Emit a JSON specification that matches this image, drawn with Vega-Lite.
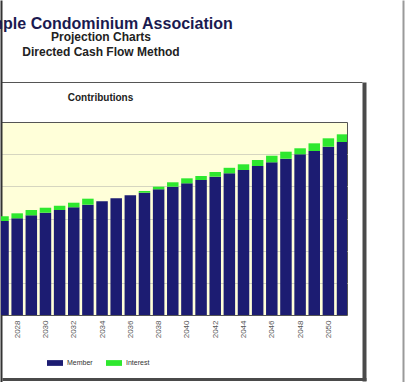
{
  "$schema": "https://vega.github.io/schema/vega-lite/v6.json",
  "autosize": "none",
  "padding": {"left": 1, "top": 122, "right": 62, "bottom": 67},
  "background": "white",
  "width": 346,
  "height": 193,
  "view": {"fill": "#ffffd9", "stroke": "#555555"},
  "title": {
    "text": "Sample Condominium Association",
    "subtitle": ["Projection Charts", "Directed Cash Flow Method"],
    "font": "Liberation Sans",
    "fontSize": 16,
    "fontWeight": "bold",
    "color": "#1a1a50",
    "subtitleFont": "Liberation Sans",
    "subtitleFontSize": 12,
    "subtitleFontWeight": "bold",
    "subtitleColor": "#222222",
    "subtitleLineHeight": 15,
    "subtitlePadding": 0,
    "anchor": "middle",
    "frame": "group",
    "dx": -73,
    "offset": 24
  },
  "resolve": {
    "scale": {"x": "independent", "y": "independent"},
    "axis": {"x": "independent", "y": "independent"}
  },
  "layer": [
    {
      "data": {
        "values": [
          {"year": 2027, "type": "Member", "amount": 292000},
          {"year": 2027, "type": "Interest", "amount": 15000},
          {"year": 2028, "type": "Member", "amount": 300600},
          {"year": 2028, "type": "Interest", "amount": 15500},
          {"year": 2029, "type": "Member", "amount": 309900},
          {"year": 2029, "type": "Interest", "amount": 16500},
          {"year": 2030, "type": "Member", "amount": 318000},
          {"year": 2030, "type": "Interest", "amount": 15500},
          {"year": 2031, "type": "Member", "amount": 326400},
          {"year": 2031, "type": "Interest", "amount": 13400},
          {"year": 2032, "type": "Member", "amount": 334800},
          {"year": 2032, "type": "Interest", "amount": 14300},
          {"year": 2033, "type": "Member", "amount": 342900},
          {"year": 2033, "type": "Interest", "amount": 18700},
          {"year": 2034, "type": "Member", "amount": 353500},
          {"year": 2034, "type": "Interest", "amount": 0},
          {"year": 2035, "type": "Member", "amount": 363100},
          {"year": 2035, "type": "Interest", "amount": 0},
          {"year": 2036, "type": "Member", "amount": 372100},
          {"year": 2036, "type": "Interest", "amount": 0},
          {"year": 2037, "type": "Member", "amount": 380200},
          {"year": 2037, "type": "Interest", "amount": 5300},
          {"year": 2038, "type": "Member", "amount": 390800},
          {"year": 2038, "type": "Interest", "amount": 8100},
          {"year": 2039, "type": "Member", "amount": 398900},
          {"year": 2039, "type": "Interest", "amount": 13700},
          {"year": 2040, "type": "Member", "amount": 409400},
          {"year": 2040, "type": "Interest", "amount": 15500},
          {"year": 2041, "type": "Member", "amount": 419700},
          {"year": 2041, "type": "Interest", "amount": 12400},
          {"year": 2042, "type": "Member", "amount": 430000},
          {"year": 2042, "type": "Interest", "amount": 14600},
          {"year": 2043, "type": "Member", "amount": 440500},
          {"year": 2043, "type": "Interest", "amount": 17100},
          {"year": 2044, "type": "Member", "amount": 450800},
          {"year": 2044, "type": "Interest", "amount": 17700},
          {"year": 2045, "type": "Member", "amount": 463200},
          {"year": 2045, "type": "Interest", "amount": 18700},
          {"year": 2046, "type": "Member", "amount": 474700},
          {"year": 2046, "type": "Interest", "amount": 20500},
          {"year": 2047, "type": "Member", "amount": 485900},
          {"year": 2047, "type": "Interest", "amount": 21800},
          {"year": 2048, "type": "Member", "amount": 499600},
          {"year": 2048, "type": "Interest", "amount": 18700},
          {"year": 2049, "type": "Member", "amount": 509800},
          {"year": 2049, "type": "Interest", "amount": 23900},
          {"year": 2050, "type": "Member", "amount": 523200},
          {"year": 2050, "type": "Interest", "amount": 26100},
          {"year": 2051, "type": "Member", "amount": 537800},
          {"year": 2051, "type": "Interest", "amount": 23900}
        ]
      },
      "mark": {"type": "bar", "width": 11.5, "clip": true},
      "encoding": {
        "x": {
          "field": "year",
          "type": "quantitative",
          "scale": {"domain": [2027.2106, 2050.962], "nice": false, "zero": false},
          "axis": {
            "orient": "bottom",
            "title": null,
            "values": [2028, 2030, 2032, 2034, 2036, 2038, 2040, 2042, 2044, 2046, 2048, 2050],
            "format": "d",
            "labelAngle": -90,
            "labelFont": "Liberation Sans",
            "labelFontSize": 8,
            "labelColor": "#555555",
            "labelPadding": 5,
            "ticks": false,
            "domain": false,
            "grid": false
          }
        },
        "y": {
          "field": "amount",
          "type": "quantitative",
          "stack": true,
          "scale": {"domain": [0, 600000], "nice": false},
          "axis": {
            "orient": "left",
            "title": null,
            "values": [100000, 200000, 300000, 400000, 500000],
            "labels": false,
            "ticks": false,
            "domain": false,
            "grid": true,
            "gridColor": "#d6d6c0",
            "gridWidth": 1
          }
        },
        "color": {
          "field": "type",
          "type": "nominal",
          "scale": {"domain": ["Member", "Interest"], "range": ["#1c1c72", "#2ee82e"]},
          "legend": {
            "title": null,
            "orient": "none",
            "legendX": 46,
            "legendY": 233,
            "direction": "horizontal",
            "symbolType": "M-1,-0.36H1V0.36H-1Z",
            "symbolSize": 256,
            "symbolStrokeWidth": 0,
            "labelFont": "Liberation Sans",
            "labelFontSize": 7,
            "labelColor": "#333333",
            "labelOffset": 4,
            "columnPadding": 13,
            "padding": 0
          }
        },
        "order": {"field": "type", "sort": "descending"}
      }
    },
    {
      "data": {"values": [{}]},
      "mark": {"type": "text", "text": ""},
      "encoding": {
        "x": {
          "datum": 0,
          "type": "quantitative",
          "scale": {"domain": [0, 1], "range": [0, 198]},
          "axis": {
            "orient": "top",
            "offset": 0,
            "domain": false,
            "labels": false,
            "ticks": false,
            "grid": false,
            "title": "Contributions",
            "titleFont": "Liberation Sans",
            "titleFontSize": 10,
            "titleFontWeight": "bold",
            "titleColor": "#222222",
            "titlePadding": 20
          }
        }
      }
    },
    {
      "data": {"values": [{}]},
      "mark": {"type": "text", "text": ""},
      "encoding": {
        "x": {
          "datum": 0,
          "type": "quantitative",
          "scale": {"domain": [0, 1], "range": [0, 361]},
          "axis": {
            "orient": "top",
            "offset": 40,
            "domain": true,
            "domainColor": "#555555",
            "domainWidth": 1,
            "labels": false,
            "ticks": false,
            "grid": false,
            "title": null
          }
        }
      }
    },
    {
      "data": {"values": [{}]},
      "mark": {"type": "text", "text": ""},
      "encoding": {
        "x": {
          "datum": 0,
          "type": "quantitative",
          "scale": {"domain": [0, 1], "range": [1, 365]},
          "axis": {
            "orient": "bottom",
            "offset": 64,
            "domain": true,
            "domainColor": "#4a4a4a",
            "domainWidth": 3,
            "labels": false,
            "ticks": false,
            "grid": false,
            "title": null
          }
        }
      }
    },
    {
      "data": {"values": [{}]},
      "mark": {"type": "text", "text": ""},
      "encoding": {
        "y": {
          "datum": 0,
          "type": "quantitative",
          "scale": {"domain": [0, 1], "range": [259, -40]},
          "axis": {
            "orient": "right",
            "offset": 17,
            "domain": true,
            "domainColor": "#4a4a4a",
            "domainWidth": 4,
            "labels": false,
            "ticks": false,
            "grid": false,
            "title": null
          }
        }
      }
    },
    {
      "data": {"values": [{}]},
      "mark": {"type": "text", "text": ""},
      "encoding": {
        "y": {
          "datum": 0,
          "type": "quantitative",
          "scale": {"domain": [0, 1], "range": [260, -122]},
          "axis": {
            "orient": "left",
            "offset": 0,
            "domain": true,
            "domainColor": "#333333",
            "domainWidth": 2,
            "labels": false,
            "ticks": false,
            "grid": false,
            "title": null
          }
        }
      }
    },
    {
      "data": {"values": [{}]},
      "mark": {"type": "text", "text": ""},
      "encoding": {
        "y": {
          "datum": 0,
          "type": "quantitative",
          "scale": {"domain": [0, 1], "range": [260, -122]},
          "axis": {
            "orient": "right",
            "offset": 56,
            "domain": true,
            "domainColor": "#9a9a9a",
            "domainWidth": 2,
            "labels": false,
            "ticks": false,
            "grid": false,
            "title": null
          }
        }
      }
    }
  ]
}
